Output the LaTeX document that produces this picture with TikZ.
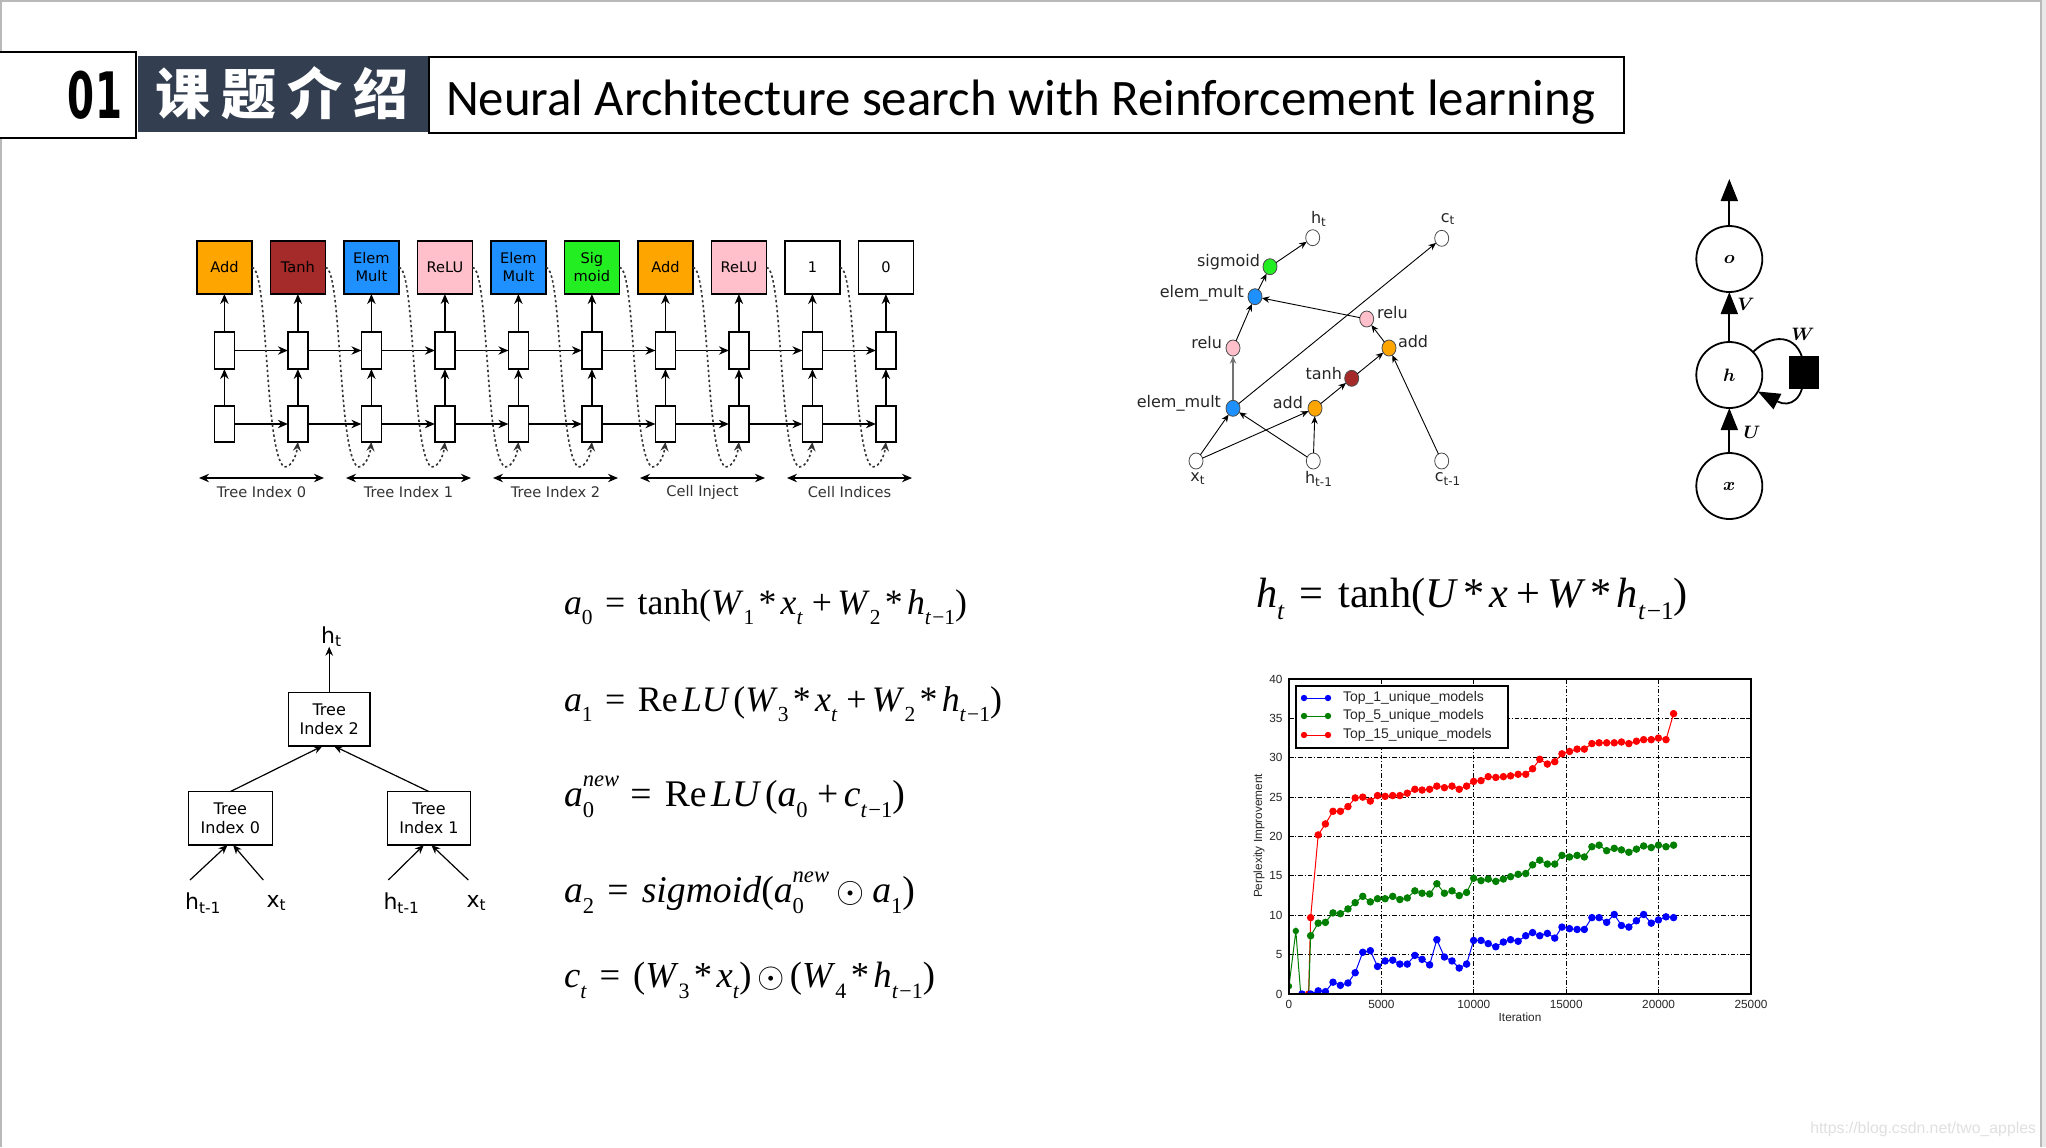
\documentclass[tikz,border=0pt]{standalone}
\usepackage{fontspec}
\usepackage{amsmath}
\usepackage{graphicx}
\usetikzlibrary{arrows.meta,shapes.geometric}
\newfontfamily\djs{DejaVu Sans}
\newfontfamily\tms{Liberation Serif}
\newfontfamily\las{Liberation Sans}
\newfontfamily\carl{Carlito}
\newfontfamily\cjk{Noto Sans CJK SC}
\definecolor{hdr}{HTML}{333F50}
\definecolor{cOr}{HTML}{FFA500}
\definecolor{cBr}{HTML}{A52A2A}
\definecolor{cBl}{HTML}{1E90FF}
\definecolor{cPk}{HTML}{FFC0CB}
\definecolor{cGr}{HTML}{22EE22}
\definecolor{sBlue}{HTML}{0000FF}
\definecolor{sGreen}{HTML}{007F00}
\definecolor{sRed}{HTML}{FF0000}
\newcommand{\Ls}[1]{\raisebox{-0.3em}{\scalebox{0.6}{#1}}}
\newcommand{\Lp}[1]{\raisebox{0.52em}{\scalebox{0.6}{#1}}}
\newcommand{\Lsp}[2]{\rlap{\Ls{#1}}\Lp{#2}}
\tikzset{
  opbox/.style={draw, line width=0.75pt, minimum width=27.5pt, minimum height=26.5pt, align=center, font=\djs\fontsize{7.3pt}{9pt}\selectfont},
  cellr/.style={draw, line width=0.75pt, fill=white, minimum width=10pt, minimum height=18.5pt},
  arr/.style={-{Stealth[length=5pt,width=4.2pt]}, line width=0.7pt},
  darr/.style={{Stealth[length=5pt,width=4.2pt]}-{Stealth[length=5pt,width=4.2pt]}, line width=0.7pt},
  dotc/.style={dash pattern=on 1.2pt off 1.3pt, line width=0.8pt, draw=black!80, -{Stealth[length=4.5pt,width=4pt]}},
  lbl/.style={font=\djs\fontsize{7.3pt}{9pt}\selectfont, text=black!80},
  gnode/.style={ellipse, draw=black!70, line width=0.4pt, minimum width=7pt, minimum height=8pt},
  glbl/.style={font=\djs\fontsize{8pt}{9pt}\selectfont, text=black!85},
  garr/.style={-{Stealth[length=3.8pt,width=3.2pt]}, line width=0.45pt},
  rnnc/.style={circle, draw, line width=0.9pt, minimum size=33pt, font=\fontsize{9.5pt}{10pt}\selectfont},
  bigarr/.style={-{Triangle[length=11pt,width=8.5pt]}, line width=0.9pt},
  treebox/.style={draw, line width=0.75pt, align=center, minimum height=26.7pt, font=\djs\fontsize{8pt}{9.3pt}\selectfont},
  tarr/.style={-{Stealth[length=4.5pt,width=3.8pt]}, line width=0.6pt},
  tlbl/.style={font=\djs\fontsize{11pt}{12pt}\selectfont},
  eqn/.style={anchor=base west, font=\tms\fontsize{18pt}{20pt}\selectfont},
  gridl/.style={line width=0.45pt, dash pattern=on 2.2pt off 1pt on 0.5pt off 1pt},
  tickl/.style={font=\las\fontsize{5.9pt}{6pt}\selectfont, text=black!85},
  ser/.style={line width=0.5pt, mark=*, mark size=1.6pt},
}
\begin{document}
\begin{tikzpicture}[x=0.5pt,y=-0.5pt, every node/.style={inner sep=0pt, outer sep=0pt}]
\useasboundingbox (0,0) rectangle (2046,1147);
\fill[white] (0,0) rectangle (2046,1147);
\fill[gray!18] (2042,0) rectangle (2046,1147);
\draw[gray!55, line width=1pt] (0.75,1147) -- (0.75,0.75) -- (2041,0.75) -- (2041,1147);

% ---------- header
\draw[line width=1pt, fill=white] (-5,52) rectangle (136,138);
\fill[hdr] (138,56) rectangle (428,132);
\draw[line width=1pt, fill=white] (429,57) rectangle (1624,133);
\node[anchor=base west] (num) at (68,118) {\djs\bfseries\fontsize{32pt}{32pt}\selectfont\resizebox{27pt}{\height}{01}};
\node[anchor=base west, text=white] (cn) at (155,114) {\cjk\bfseries\fontsize{27.5pt}{27.5pt}\selectfont 课\hspace{5.5pt}题\hspace{5.5pt}介\hspace{5.5pt}绍};
\node[anchor=base west] (title) at (446,115) {\carl\fontsize{25.6pt}{26pt}\selectfont\resizebox{574.5pt}{\height}{Neural Architecture search with Reinforcement learning}};

% ---------- controller RNN
\foreach \i/\lab/\col in {0/Add/cOr,1/Tanh/cBr,2/{Elem\\Mult}/cBl,3/ReLU/cPk,4/{Elem\\Mult}/cBl,5/{Sig\\moid}/cGr,6/Add/cOr,7/ReLU/cPk,8/1/white,9/0/white}{
  \pgfmathsetmacro\cx{224.4+73.5*\i}
  \node[opbox, fill=\col] (t\i) at (\cx,267.5) {\lab};
  \node[cellr] (m\i) at (\cx,350.5) {};
  \node[cellr, minimum height=18pt] (b\i) at (\cx,424) {};
  \draw[arr] (b\i) -- (m\i);
  \draw[arr] (m\i) -- (t\i);
}
\foreach \i [evaluate=\i as \j using int(\i+1)] in {0,...,8}{
  \pgfmathsetmacro\cx{224.4+73.5*\i}
  \draw[arr] (m\i) -- (m\j);
  \draw[arr] (b\i) -- (b\j);
  \draw[dotc] (t\i.east) .. controls (\cx+44,267) and (\cx+40,455) .. (\cx+60,467) .. controls (\cx+67,467) and (\cx+72,456) .. (b\j.south);
}
\foreach \g/\lab in {0/Tree Index 0,1/Tree Index 1,2/Tree Index 2,3/Cell Inject,4/Cell Indices}{
  \coordinate (gl\g) at (199+147*\g,478);
  \coordinate (gr\g) at (324+147*\g,478);
  \draw[darr] (gl\g) -- (gr\g);
  \node[lbl] (gt\g) at (261.5+147*\g,492) {\lab};
}

% ---------- cell graph
\node[gnode] (ght) at (1312.7,237.7) {};
\node[gnode] (gct) at (1441.7,238.3) {};
\node[gnode, fill=cGr] (gsig) at (1270,266.7) {};
\node[gnode, fill=cBl] (gemu) at (1255,296.7) {};
\node[gnode, fill=cPk] (grelr) at (1366.7,319) {};
\node[gnode, fill=cPk] (grell) at (1233,348) {};
\node[gnode, fill=cOr] (gaddr) at (1389,348) {};
\node[gnode, fill=cBr] (gtanh) at (1351.7,378.3) {};
\node[gnode, fill=cBl] (geml) at (1233,408.3) {};
\node[gnode, fill=cOr] (gaddl) at (1315,408.3) {};
\node[gnode] (gxt) at (1196,461) {};
\node[gnode] (ghm) at (1313.3,461) {};
\node[gnode] (gcm) at (1441.7,461) {};
\node[glbl, anchor=east] (lsig) at (1260,262) {sigmoid};
\node[glbl, anchor=east] (lemu) at (1244,293) {elem\_mult};
\node[glbl, anchor=west] (lrelr) at (1377,313) {relu};
\node[glbl, anchor=east] (lrell) at (1222,343) {relu};
\node[glbl, anchor=west] (laddr) at (1398,342) {add};
\node[glbl, anchor=east] (ltanh) at (1342,374) {tanh};
\node[glbl, anchor=east] (leml) at (1221,403) {elem\_mult};
\node[glbl, anchor=east] (laddl) at (1303,403) {add};
\node[glbl] (lxt) at (1198,479) {x\textsubscript{t}};
\node[glbl] (lhm) at (1319,479) {h\textsubscript{t-1}};
\node[glbl] (lcm) at (1448,479) {c\textsubscript{t-1}};
\node[glbl] (lht) at (1319,219) {h\textsubscript{t}};
\node[glbl] (lct) at (1448,219) {c\textsubscript{t}};
\draw[garr] (gxt) -- (geml);
\draw[garr] (gxt) -- (gaddl);
\draw[garr] (ghm) -- (geml);
\draw[garr] (ghm) -- (gaddl);
\draw[garr] (gaddl) -- (gtanh);
\draw[garr] (gtanh) -- (gaddr);
\draw[garr] (gcm) -- (gaddr);
\draw[garr] (gaddr) -- (grelr);
\draw[garr] (grelr) -- (gemu);
\draw[garr, draw=black!55, line width=0.7pt] (geml) -- (grell);
\draw[garr] (grell) -- (gemu);
\draw[garr] (gemu) -- (gsig);
\draw[garr] (gsig) -- (ght);
\draw[garr] (geml) -- (gct);

% ---------- simple RNN
\node[rnnc] (ro) at (1729.3,259) {$\boldsymbol{o}$};
\node[rnnc] (rh) at (1729.3,375) {$\boldsymbol{h}$};
\node[rnnc] (rx) at (1729.3,486) {$\boldsymbol{x}$};
\coordinate (rtop) at (1729.3,179);
\draw[bigarr] (ro) -- (rtop);
\draw[bigarr] (rh) -- (ro);
\draw[bigarr] (rx) -- (rh);
\node[font=\fontsize{9pt}{10pt}\selectfont] (lV) at (1746,304) {$\boldsymbol{V}$};
\node[font=\fontsize{9pt}{10pt}\selectfont] (lU) at (1752,432) {$\boldsymbol{U}$};
\node[font=\fontsize{9pt}{10pt}\selectfont] (lW) at (1803,334) {$\boldsymbol{W}$};
\draw[bigarr] (rh.44) .. controls (1775,330) and (1803,336) .. (1804,370) .. controls (1805,400) and (1790,408) .. (rh.-30);
\node[fill=black, minimum width=15pt, minimum height=16.5pt] (rsq) at (1804,372) {};

% ---------- tree
\node[treebox, minimum width=40.8pt] (ti2) at (329.2,719.3) {Tree\\Index 2};
\node[treebox, minimum width=42pt] (ti0) at (230.3,818.3) {Tree\\Index 0};
\node[treebox, minimum width=41.7pt] (ti1) at (429,818.3) {Tree\\Index 1};
\node[tlbl] (tht) at (331.7,636.7) {h\textsubscript{t}};
\draw[tarr] (ti2.north) -- (ti2.north |- tht.south);
\draw[tarr] (ti0.north) -- (ti2.-104);
\draw[tarr] (ti1.north) -- (ti2.-80);
\node[tlbl] (l0h) at (203.3,903.3) {h\textsubscript{t-1}};
\node[tlbl] (l0x) at (276.7,903.3) {x\textsubscript{t}};
\node[tlbl] (l1h) at (401.7,903.3) {h\textsubscript{t-1}};
\node[tlbl] (l1x) at (476.7,903.3) {x\textsubscript{t}};
\coordinate (s0h) at (190,880);
\coordinate (s0x) at (263.3,880);
\coordinate (s1h) at (388.3,880);
\coordinate (s1x) at (468.3,880);
\draw[tarr] (s0h) -- (ti0.-96);
\draw[tarr] (s0x) -- (ti0.-84);
\draw[tarr] (s1h) -- (ti1.-101);
\draw[tarr] (s1x) -- (ti1.-85);

% ---------- equations
\node[eqn] (eq1) at (564,614) {\resizebox{201.5pt}{!}{\textit{a}\Ls{0}\hspace{0.35em}=\hspace{0.35em}tanh(\textit{W}\Ls{1}\hspace{0.12em}*\hspace{0.12em}\textit{x}\Ls{\textit{t}}\hspace{0.25em}+\hspace{0.15em}\textit{W}\Ls{2}\hspace{0.12em}*\hspace{0.12em}\textit{h}\Ls{\textit{t}\hspace{0.05em}−1})}};
\node[eqn] (eq2) at (564,711) {\resizebox{219pt}{!}{\textit{a}\Ls{1}\hspace{0.35em}=\hspace{0.35em}Re\hspace{0.12em}\textit{LU}\hspace{0.1em}(\textit{W}\Ls{3}\hspace{0.12em}*\hspace{0.12em}\textit{x}\Ls{\textit{t}}\hspace{0.25em}+\hspace{0.15em}\textit{W}\Ls{2}\hspace{0.12em}*\hspace{0.12em}\textit{h}\Ls{\textit{t}\hspace{0.05em}−1})}};
\node[eqn] (eq3) at (564,806) {\resizebox{170.5pt}{!}{\textit{a}\Lsp{0}{\textit{new}}\hspace{0.3em}=\hspace{0.35em}Re\hspace{0.12em}\textit{LU}\hspace{0.1em}(\textit{a}\Ls{0}\hspace{0.25em}+\hspace{0.15em}\textit{c}\Ls{\textit{t}\hspace{0.05em}−1})}};
\node[eqn] (eq4) at (564,902) {\resizebox{175.5pt}{!}{\textit{a}\Ls{2}\hspace{0.35em}=\hspace{0.35em}\textit{sigmoid}(\textit{a}\Lsp{0}{\textit{new}}\hspace{0.2em}$\odot$\hspace{0.2em}\textit{a}\Ls{1})}};
\node[eqn] (eq5) at (564,987) {\resizebox{185.5pt}{!}{\textit{c}\Ls{\textit{t}}\hspace{0.35em}=\hspace{0.35em}(\textit{W}\Ls{3}\hspace{0.12em}*\hspace{0.12em}\textit{x}\Ls{\textit{t}})\hspace{0.15em}$\odot$\hspace{0.15em}(\textit{W}\Ls{4}\hspace{0.12em}*\hspace{0.12em}\textit{h}\Ls{\textit{t}\hspace{0.05em}−1})}};
\node[eqn] (eq6) at (1256,607) {\resizebox{216pt}{!}{\textit{h}\Ls{\textit{t}}\hspace{0.35em}=\hspace{0.35em}tanh(\textit{U}\hspace{0.12em}*\hspace{0.12em}\textit{x}\hspace{0.2em}+\hspace{0.15em}\textit{W}\hspace{0.12em}*\hspace{0.12em}\textit{h}\Ls{\textit{t}\hspace{0.05em}−1})}};

% ---------- chart
\begin{scope}[shift={(644.5pt,-497pt)},x=9.24pt,y=3.9375pt]
  \foreach \v in {5,10,...,35} \draw[gridl] (0,\v) -- (25,\v);
  \foreach \v in {5,10,15,20} \draw[gridl] (\v,0) -- (\v,40);
  \foreach \v in {5,10,15,20} {\draw[line width=0.5pt] (\v,0) -- (\v,0.6); \draw[line width=0.5pt] (\v,40) -- (\v,39.4);}
  \foreach \v in {5,10,...,35} {\draw[line width=0.5pt] (0,\v) -- (0.25,\v); \draw[line width=0.5pt] (25,\v) -- (24.75,\v);}
  \foreach \v/\tx in {0/0,5/5000,10/10000,15/15000,20/20000,25/25000} \node[tickl, anchor=north] (xtk\v) at (\v,-0.8) {\tx};
  \foreach \v in {0,5,...,40} \node[tickl, anchor=east] (ytk\v) at (-0.35,\v) {\v};
  \begin{scope}
    \clip (0,0) rectangle (25,40);
    \draw[ser, sRed, mark options={fill=sRed}] plot coordinates {(1.06,0) (1.17,9.7) (1.58,20.2) (1.97,21.6) (2.38,23.2) (2.78,23.2) (3.19,23.8) (3.58,24.9) (3.99,25.0) (4.40,24.5) (4.79,25.2) (5.20,25.1) (5.61,25.2) (6.00,25.2) (6.40,25.5) (6.81,26.0) (7.20,25.9) (7.61,26.0) (8.00,26.4) (8.41,26.2) (8.82,26.4) (9.21,26.0) (9.61,26.4) (9.99,27.0) (10.39,27.1) (10.78,27.6) (11.19,27.5) (11.60,27.6) (11.99,27.7) (12.40,27.9) (12.81,27.9) (13.18,28.6) (13.57,29.8) (13.98,29.2) (14.38,29.5) (14.77,30.5) (15.18,30.8) (15.59,31.1) (15.98,31.1) (16.39,31.8) (16.78,31.9) (17.19,31.9) (17.60,31.9) (17.99,32.0) (18.39,31.8) (18.80,32.1) (19.19,32.3) (19.60,32.3) (19.99,32.5) (20.40,32.3) (20.81,35.6)};
    \draw[line width=0.5pt, sGreen] (0,1.0) -- (0.37,8.0) -- (0.65,-0.5) -- (1.06,-0.5) -- (1.17,7.4);
    \fill[sGreen] (0,1.0) circle[radius=1.6pt] (0.37,8.0) circle[radius=1.6pt];
    \draw[ser, sGreen, mark options={fill=sGreen}] plot coordinates {(1.17,7.4) (1.58,9.0) (1.97,9.1) (2.38,10.3) (2.78,10.2) (3.19,10.8) (3.58,11.6) (3.99,12.4) (4.40,11.7) (4.79,12.1) (5.20,12.1) (5.61,12.4) (6.00,12.0) (6.40,12.2) (6.81,13.1) (7.20,12.8) (7.61,12.7) (8.00,14.0) (8.41,12.8) (8.82,13.1) (9.21,12.5) (9.61,12.9) (9.99,14.7) (10.39,14.4) (10.78,14.6) (11.19,14.3) (11.60,14.6) (11.99,14.9) (12.40,15.2) (12.81,15.3) (13.18,16.4) (13.57,17.0) (13.98,16.5) (14.38,16.5) (14.77,17.6) (15.18,17.4) (15.59,17.6) (15.98,17.4) (16.39,18.7) (16.78,18.9) (17.19,18.2) (17.60,18.5) (17.99,18.3) (18.39,18.0) (18.80,18.4) (19.19,18.8) (19.60,18.6) (19.99,18.9) (20.40,18.7) (20.81,18.9)};
    \draw[ser, sBlue, mark options={fill=sBlue}] plot coordinates {(0.70,0) (1.17,0.0) (1.58,0.4) (1.97,0.3) (2.38,1.5) (2.78,1.1) (3.19,1.4) (3.58,2.7) (3.99,5.3) (4.40,5.5) (4.79,3.5) (5.20,4.2) (5.61,4.3) (6.00,3.8) (6.40,3.8) (6.81,4.9) (7.20,4.4) (7.61,3.7) (8.00,6.9) (8.41,4.7) (8.82,4.2) (9.21,3.3) (9.61,3.8) (9.99,6.8) (10.39,6.8) (10.78,6.4) (11.19,6.0) (11.60,6.6) (11.99,6.9) (12.40,6.7) (12.81,7.4) (13.18,7.8) (13.57,7.4) (13.98,7.7) (14.38,7.1) (14.77,8.5) (15.18,8.3) (15.59,8.2) (15.98,8.2) (16.39,9.7) (16.78,9.7) (17.19,9.1) (17.60,10.1) (17.99,8.7) (18.39,8.5) (18.80,9.3) (19.19,10.1) (19.60,9.0) (19.99,9.4) (20.40,9.8) (20.81,9.7)};
  \end{scope}
  \draw[line width=0.7pt] (0,0) rectangle (25,40);
\end{scope}
\node[tickl, rotate=90] (ylab) at (1259,836) {Perplexity Improvement};
\node[tickl] (xlab) at (1520,1017) {Iteration};
\draw[fill=white, line width=0.6pt] (1296,686) rectangle (1508,748);
\foreach \yy/\c/\tx [count=\k] in {698/sBlue/Top\_1\_unique\_models,716/sGreen/Top\_5\_unique\_models,735/sRed/Top\_15\_unique\_models}{
  \draw[\c, line width=0.5pt] (1304,\yy) -- (1328,\yy);
  \fill[\c] (1304,\yy) circle[radius=1.6pt] (1328,\yy) circle[radius=1.6pt];
  \node[anchor=west, font=\las\fontsize{7pt}{8pt}\selectfont, text=black!85] (lg\k) at (1343,\yy) {\tx};
}

% ---------- watermark
\node[anchor=east, text=black!12, font=\las\fontsize{7.9pt}{8pt}\selectfont] (wm) at (2036,1129) {https://blog.csdn.net/two\_apples};
\end{tikzpicture}
\end{document}
